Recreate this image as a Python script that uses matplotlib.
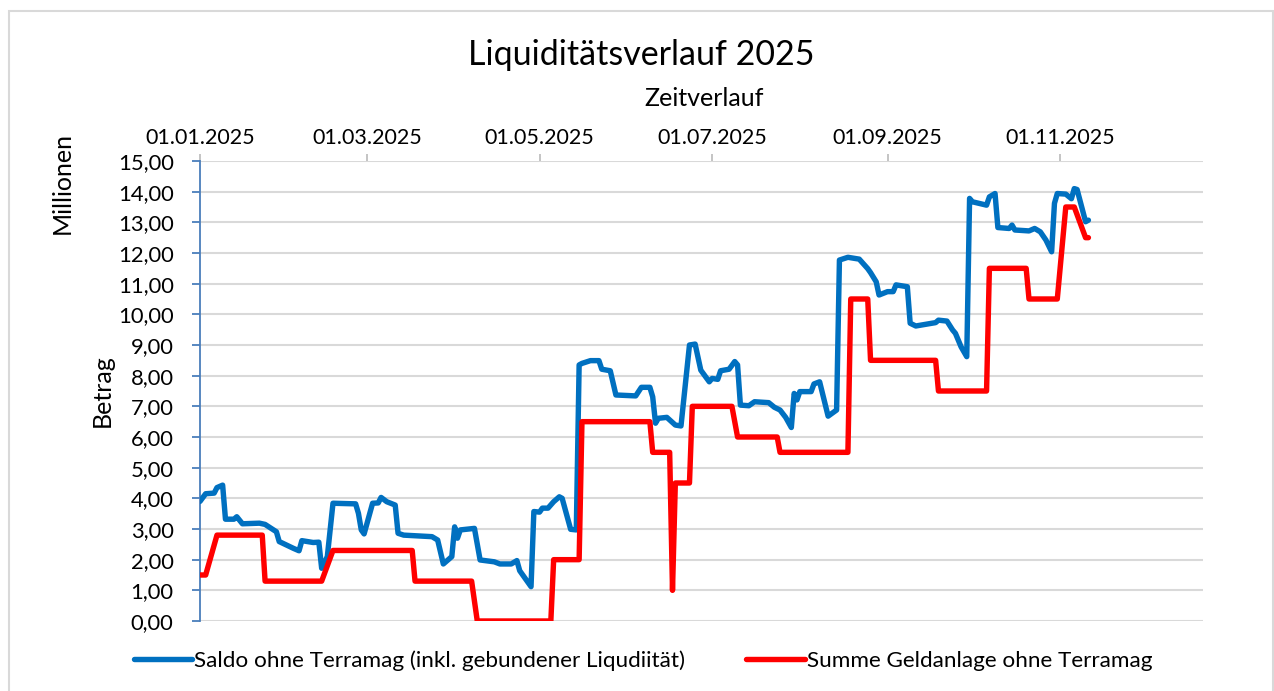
import matplotlib
matplotlib.use("Agg")
import matplotlib.pyplot as plt
import matplotlib.dates as mdates
from matplotlib.patches import Rectangle
import numpy as np

plt.rcParams['font.family'] = ['Lato', 'DejaVu Sans']

# days after 01.01.2025 and values in millions
saldo_days = [0, 2, 5, 6, 8, 9, 12, 13, 15, 21, 23, 27, 28, 33, 35, 36, 40, 42, 43, 45,
              47, 55, 56, 57, 58, 61, 63, 64, 66, 69, 70, 72, 82, 84, 86, 89, 90, 91, 92, 97,
              99, 104, 106, 110, 112, 113, 117, 118, 120, 121, 123, 125, 127, 128, 131, 133, 134, 135, 138, 141,
              142, 145, 147, 154, 156, 159, 160, 161, 162, 165, 168, 170, 173, 175, 177, 180, 181, 183, 184, 187,
              189, 190, 191, 194, 196, 201, 203, 205, 207, 209, 210, 211, 212, 216, 217, 219, 222, 225, 226, 229,
              233, 236, 237, 239, 240, 243, 245, 246, 250, 251, 253, 260, 261, 264, 266, 267, 269, 271, 272, 273,
              278, 279, 281, 282, 286, 287, 288, 293, 295, 297, 299, 301, 302, 303, 306, 308, 309, 310, 313, 314]
saldo_vals = [3.90, 4.15, 4.17, 4.35, 4.43, 3.32, 3.32, 3.40, 3.17, 3.19, 3.15, 2.91, 2.59, 2.37, 2.29, 2.62, 2.56, 2.57, 1.72, 2.10,
              3.84, 3.82, 3.51, 2.97, 2.84, 3.84, 3.85, 4.03, 3.89, 3.78, 2.86, 2.80, 2.75, 2.64, 1.86, 2.10, 3.07, 2.70, 2.97, 3.02,
              1.99, 1.93, 1.86, 1.86, 1.97, 1.64, 1.12, 3.57, 3.55, 3.68, 3.68, 3.89, 4.05, 4.00, 2.99, 2.97, 8.35, 8.40, 8.49, 8.49,
              8.21, 8.16, 7.37, 7.34, 7.62, 7.62, 7.31, 6.45, 6.61, 6.64, 6.39, 6.36, 9.00, 9.03, 8.18, 7.80, 7.91, 7.88, 8.16, 8.21,
              8.46, 8.35, 7.04, 7.02, 7.15, 7.12, 6.97, 6.88, 6.64, 6.31, 7.42, 7.21, 7.48, 7.48, 7.73, 7.80, 6.68, 6.88, 11.77, 11.86,
              11.80, 11.49, 11.36, 11.06, 10.63, 10.74, 10.74, 10.96, 10.90, 9.71, 9.62, 9.73, 9.81, 9.78, 9.49, 9.38, 8.94, 8.62, 13.78, 13.67,
              13.56, 13.83, 13.94, 12.83, 12.80, 12.91, 12.75, 12.72, 12.80, 12.69, 12.42, 12.04, 13.62, 13.94, 13.92, 13.77, 14.10, 14.07, 13.02, 13.07]

anlage_days = [0, 2, 6, 22, 23, 43, 47, 75, 76, 96, 98, 124, 125, 134, 135, 159, 160, 166, 167, 168,
               173, 174, 188, 190, 204, 205, 229, 230, 236, 237, 260, 261, 278, 279, 292, 293, 303, 306, 309, 313, 314]
anlage_vals = [1.5, 1.5, 2.8, 2.8, 1.3, 1.3, 2.3, 2.3, 1.3, 1.3, 0.0, 0.0, 2.0, 2.0, 6.5, 6.5, 5.5, 5.5, 1.0, 4.5,
               4.5, 7.0, 7.0, 6.0, 6.0, 5.5, 5.5, 10.5, 10.5, 8.5, 8.5, 7.5, 7.5, 11.5, 11.5, 10.5, 10.5, 13.5, 13.5, 12.5, 12.5]

start = np.datetime64('2025-01-01')
saldo_dates = start + np.array(saldo_days).astype('timedelta64[D]')
anlage_dates = start + np.array(anlage_days).astype('timedelta64[D]')

fig = plt.figure(figsize=(12.74, 6.91), dpi=100)
ax = fig.add_axes([200/1274, 70/691, 1003/1274, 460/691])

# outer chart border like excel
fig.patches.append(Rectangle((9/1274, -0.01), 1264/1274, 1 - 11/691 + 0.01, transform=fig.transFigure,
                             fill=False, edgecolor='#d9d9d9', linewidth=1.5))

ax.plot(saldo_dates, saldo_vals, color='#0070C0', lw=3.9, solid_joinstyle='round', solid_capstyle='round',
        label='Saldo ohne Terramag (inkl. gebundener Liqudiität)', zorder=3)
ax.plot(anlage_dates, anlage_vals, color='#FF0000', lw=3.9, solid_joinstyle='round', solid_capstyle='round',
        label='Summe Geldanlage ohne Terramag', zorder=3)

ax.set_ylim(0, 15)
ax.set_yticks(range(0, 16))
ax.set_yticklabels([f"{v:.2f}".replace('.', ',') for v in range(0, 16)], fontsize=15.8)
ax.set_xlim(start, start + np.timedelta64(354, 'D') + np.timedelta64(12, 'h'))
ax.xaxis.tick_top()
ax.xaxis.set_major_locator(mdates.MonthLocator(bymonth=[1, 3, 5, 7, 9, 11]))
ax.xaxis.set_major_formatter(mdates.DateFormatter('%d.%m.%Y'))
plt.setp(ax.get_xticklabels(), fontsize=15.5)

ax.grid(axis='y', color='#d9d9d9', lw=1.5, zorder=0)
for s in ['top', 'right', 'bottom']:
    ax.spines[s].set_visible(False)
ax.spines['left'].set_color('#4a7ebb')
ax.spines['left'].set_linewidth(1.3)
ax.tick_params(axis='y', colors='#4a7ebb', length=6, width=1.3, labelcolor='black', pad=13)
ax.tick_params(axis='x', colors='#bfbfbf', length=5, width=1.3, labelcolor='black', pad=4)

fig.text(641/1274, 1 - 55/691, 'Liquiditätsverlauf 2025', fontsize=24.5, ha='center', va='center')
fig.text(704/1274, 1 - 98/691, 'Zeitverlauf', fontsize=18, ha='center', va='center')
fig.text(62/1274, 1 - 183/691, 'Millionen', fontsize=18, rotation=90, ha='center', va='center')
fig.text(102/1274, 1 - 391/691, 'Betrag', fontsize=18, rotation=90, ha='center', va='center')

fig.legend(loc='center', bbox_to_anchor=(643/1274, 1 - 661/691), ncol=2, frameon=False, fontsize=16.2,
           handlelength=2.6, handletextpad=0.1, columnspacing=2.7)

fig.savefig('out.png', dpi=100, facecolor='white')
